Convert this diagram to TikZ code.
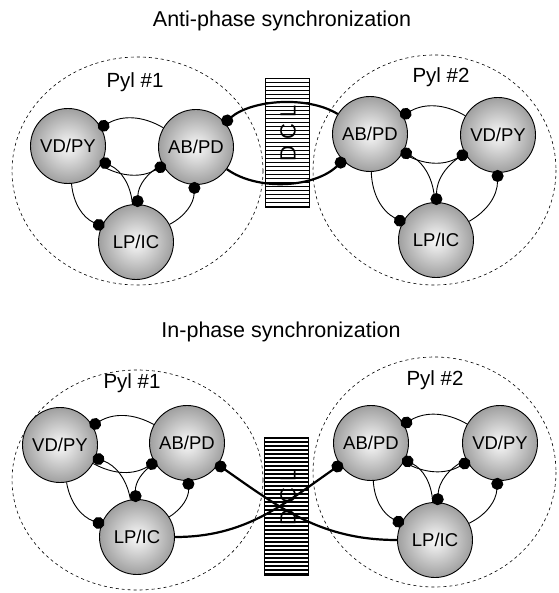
\documentclass[tikz,border=0pt]{standalone}
\usepackage{fontspec}
\setmainfont{Liberation Sans}
\usetikzlibrary{arrows.meta}

\begin{document}
\begin{tikzpicture}[x=1pt,y=-1pt]%
  \tikzstyle{neur}=[circle,draw,line width=0.9pt,minimum size=75pt,inner sep=0,inner color=gray!4,outer color=gray!75,font=\fontsize{18.5}{20}\selectfont]
  \tikzstyle{syn}=[line width=0.9pt,bend right=30,-{Circle[length=12pt]},shorten >=-3pt]
  \tikzstyle{dclline}=[line width=2.2pt,-{Circle[length=12pt]},shorten >=-3pt]
  \tikzstyle{pyl}=[dashed,line width=0.6pt]
  \tikzstyle{dclbox}=[draw,line width=0.9pt,minimum width=44pt,minimum height=129pt,
    path picture={\foreach \y in {-80,-76,...,80}
      \draw[line width=1.3pt] ([shift={(-30,\y)}]path picture bounding box.center) -- ++(60,0);}]
  \tikzstyle{dcltext}=[rotate=90,font=\fontsize{22}{24}\selectfont]
  \tikzstyle{ttl}=[font=\fontsize{21.5}{24}\selectfont]
  \tikzstyle{lbl}=[font=\fontsize{20.5}{22}\selectfont]
  \useasboundingbox (0,0) rectangle (558,593);
  % anti-phase
  \node(t1)[ttl] at (282,21) {Anti-phase synchronization};
  \draw[pyl] (137.5,171) ellipse [x radius=125.5,y radius=114];
  \draw[pyl] (434.5,170) ellipse [x radius=121.5,y radius=115];
  \node(p1)[lbl] at (135,82) {Pyl \#1};
  \node(p2)[lbl] at (441,77) {Pyl \#2};
  \node(d1)[dclbox] at (287.5,142.5) {};
  \node(dt1)[dcltext] at (288,133) {D\hspace{6pt}C\hspace{6pt}L};
  \node(V1)[neur] at (68,146) {VD/PY};
  \node(A1)[neur] at (196,147) {AB/PD};
  \node(L1)[neur] at (136,242) {LP/IC};
  \node(A2)[neur] at (370,134) {AB/PD};
  \node(V2)[neur] at (498,135) {VD/PY};
  \node(L2)[neur] at (436,240) {LP/IC};
  \draw[syn] (V1) to (A1); \draw[syn] (A1) to (V1);
  \draw[syn] (V1) to (L1); \draw[syn] (L1) to (V1);
  \draw[syn] (A1) to (L1); \draw[syn] (L1) to (A1);
  \draw[syn] (V2) to (A2); \draw[syn] (A2) to (V2);
  \draw[syn] (V2) to (L2); \draw[syn] (L2) to (V2);
  \draw[syn] (A2) to (L2); \draw[syn] (L2) to (A2);
  \draw[dclline] (A2) to[bend right=36,looseness=0.8] (A1);
  \draw[dclline] (A1) to[bend right=40,looseness=0.85] (A2);
  % in-phase
  \node(t2)[ttl] at (281,332) {In-phase synchronization};
  \draw[pyl] (137.5,480) ellipse [x radius=125.5,y radius=110];
  \draw[pyl] (434.5,472) ellipse [x radius=121.5,y radius=115];
  \node(p3)[lbl] at (132,383) {Pyl \#1};
  \node(p4)[lbl] at (435,380) {Pyl \#2};
  \node(d2)[dclbox,minimum height=138pt] at (286.5,506) {};
  \node(dt2)[dcltext] at (288,497) {D\hspace{6pt}C\hspace{6pt}L};
  \node(V3)[neur] at (60,445) {VD/PY};
  \node(A3)[neur] at (187,443) {AB/PD};
  \node(L3)[neur] at (137,537) {LP/IC};
  \node(A4)[neur] at (371,443) {AB/PD};
  \node(V4)[neur] at (500,443) {VD/PY};
  \node(L4)[neur] at (435,540) {LP/IC};
  \draw[syn] (V3) to (A3); \draw[syn] (A3) to (V3);
  \draw[syn] (V3) to (L3); \draw[syn] (L3) to (V3);
  \draw[syn] (A3) to (L3); \draw[syn] (L3) to (A3);
  \draw[syn] (V4) to (A4); \draw[syn] (A4) to (V4);
  \draw[syn] (V4) to (L4); \draw[syn] (L4) to (V4);
  \draw[syn] (A4) to (L4); \draw[syn] (L4) to (A4);
  \draw[dclline] (L4) to[out=180,in=-35] (A3);
  \draw[dclline] (L3) to[out=0,in=-145] (A4);
\end{tikzpicture}
\end{document}
